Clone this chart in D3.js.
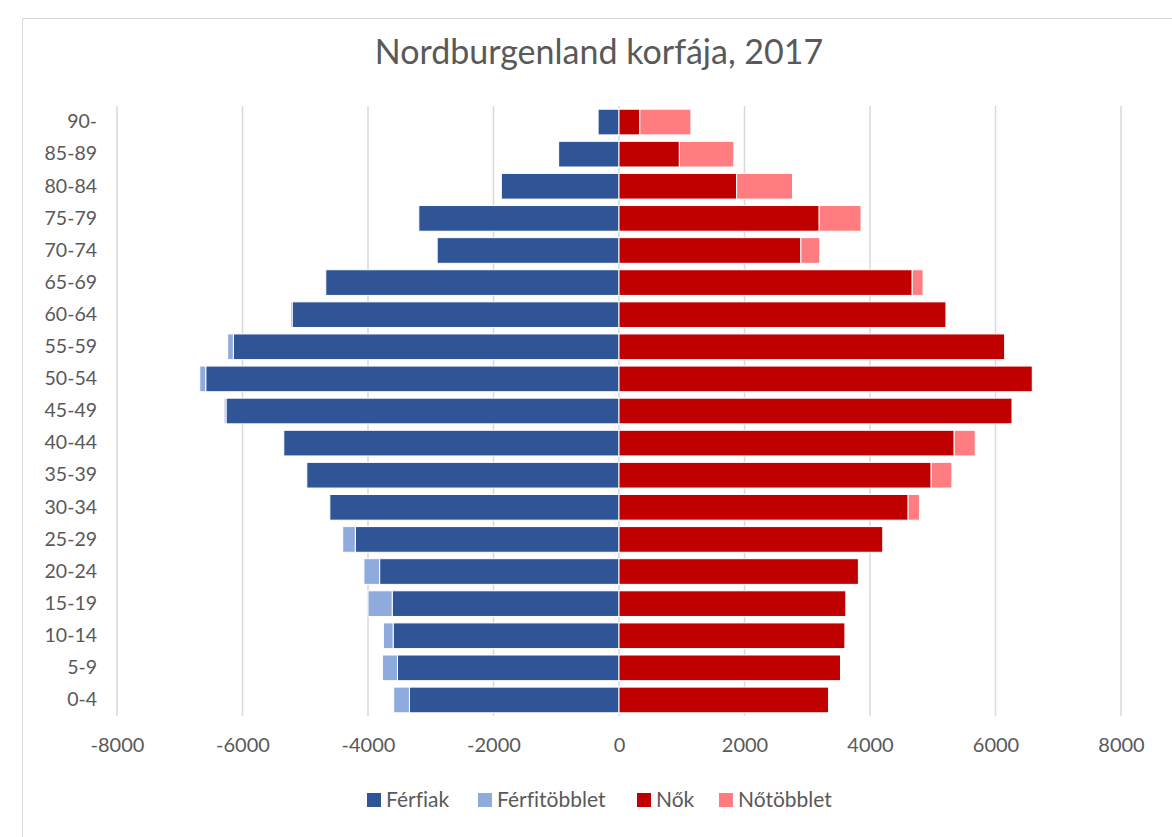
<!DOCTYPE html>
<html>
<script src="https://d3js.org/d3.v7.min.js"></script>
<style>
  body { margin: 0; background: #fff; }
  svg text { font-family: Lato, "Open Sans", sans-serif; fill: #595959; font-variant-ligatures: none; }
</style>
<body>
<svg id="chart" width="1172" height="837"></svg>
<script>
// age groups, bottom to top
const ageGroups = ["0-4", "5-9", "10-14", "15-19", "20-24", "25-29", "30-34", "35-39", "40-44",
  "45-49", "50-54", "55-59", "60-64", "65-69", "70-74", "75-79", "80-84", "85-89", "90-"];

// common part (smaller of the two sexes) and surpluses
const ferfiak      = [3340, 3530, 3600, 3615, 3815, 4203, 4608, 4975, 5342, 6263, 6586, 6146, 5210, 4673, 2898, 3190, 1875, 962, 333];
const ferfitobblet = [250, 240, 155, 385, 250, 200, 0, 0, 0, 30, 95, 90, 25, 0, 0, 0, 0, 0, 0];
const nok          = [3340, 3530, 3600, 3615, 3815, 4203, 4608, 4975, 5342, 6263, 6586, 6146, 5210, 4673, 2898, 3190, 1875, 962, 333];
const notobblet    = [0, 0, 0, 0, 0, 0, 180, 330, 335, 0, 0, 0, 0, 172, 302, 667, 890, 868, 813];

const xTicks = [-8000, -6000, -4000, -2000, 0, 2000, 4000, 6000, 8000];
const keys = ["Férfiak", "Férfitöbblet", "Nők", "Nőtöbblet"];
const colors = ["#2F5597", "#8FAADC", "#C00000", "#FF7C80"];

const table = ageGroups.map((g, i) => ({
  group: g,
  "Férfiak": -ferfiak[i],
  "Férfitöbblet": -ferfitobblet[i],
  "Nők": nok[i],
  "Nőtöbblet": notobblet[i]
}));

const svg = d3.select("#chart");

// chart frame
svg.append("rect")
  .attr("x", 22.5).attr("y", 18.5)
  .attr("width", 1180).attr("height", 840)
  .attr("fill", "none").attr("stroke", "#D9D9D9");

svg.append("text")
  .attr("x", 599).attr("y", 64)
  .attr("text-anchor", "middle")
  .style("font-size", "34px")
  .text("Nordburgenland korfája, 2017");

const x = d3.scaleLinear().domain([-8000, 8000]).range([117, 1121]);
const y = d3.scaleBand().domain(ageGroups.slice().reverse()).range([106, 716]).paddingInner(0.2).paddingOuter(0.1);

// gridlines
svg.append("g")
  .selectAll("line")
  .data(xTicks)
  .join("line")
  .attr("x1", d => x(d)).attr("x2", d => x(d))
  .attr("y1", 106).attr("y2", 716)
  .attr("stroke", "#D9D9D9").attr("stroke-width", 1.5);

const series = d3.stack().keys(keys).offset(d3.stackOffsetDiverging)(table);

svg.append("g")
  .selectAll("g")
  .data(series)
  .join("g")
  .attr("fill", (d, i) => colors[i])
  .selectAll("rect")
  .data(d => d)
  .join("rect")
  .attr("x", d => Math.min(x(d[0]), x(d[1])))
  .attr("width", d => Math.abs(x(d[1]) - x(d[0])))
  .attr("y", d => y(d.data.group))
  .attr("height", y.bandwidth())
  .attr("stroke", "#fff")
  .attr("stroke-width", 1);

// y axis labels
svg.append("g")
  .attr("transform", "translate(97,0)")
  .call(d3.axisLeft(y).tickSize(0).tickPadding(0))
  .call(g => g.select(".domain").remove())
  .selectAll("text")
  .style("font-size", "19.5px");

// x axis labels
svg.append("g")
  .attr("transform", "translate(0,738)")
  .call(d3.axisBottom(x).tickValues(xTicks).tickSize(0).tickPadding(0).tickFormat(d => String(d)))
  .call(g => g.select(".domain").remove())
  .selectAll("text")
  .attr("dy", "0.71em")
  .style("font-size", "20px");

// legend
const legendX = [367, 478, 637, 719];
const legend = svg.append("g")
  .selectAll("g")
  .data(keys)
  .join("g")
  .attr("transform", (d, i) => `translate(${legendX[i]},800)`);
legend.append("rect")
  .attr("x", 0).attr("y", -7)
  .attr("width", 14).attr("height", 14)
  .attr("fill", (d, i) => colors[i]);
legend.append("text")
  .attr("x", 19).attr("y", 0)
  .attr("dy", "0.35em")
  .style("font-size", "21px")
  .text(d => d);
</script>
</body>
</html>
